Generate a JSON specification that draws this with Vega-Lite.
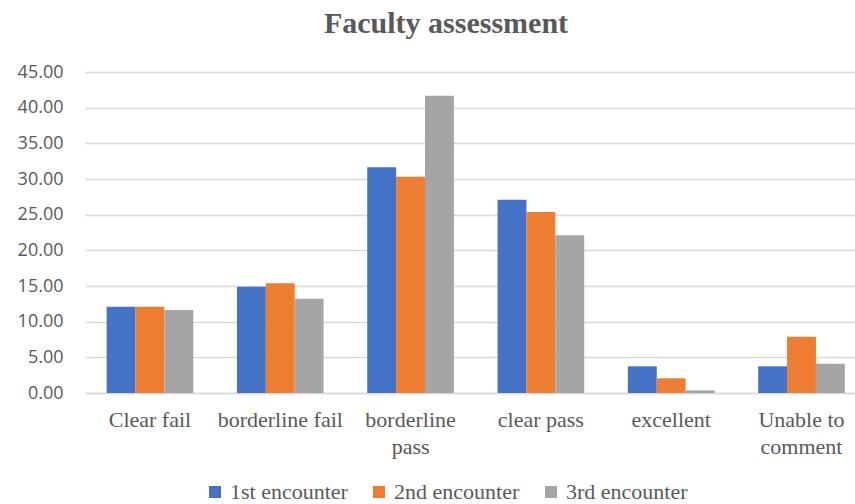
{
  "$schema": "https://vega.github.io/schema/vega-lite/v6.json",
  "width": 770,
  "height": 321,
  "autosize": "none",
  "padding": {"left": 85, "top": 72, "right": 0, "bottom": 111},
  "background": "white",
  "title": {
    "text": "Faculty assessment",
    "font": "Liberation Serif",
    "fontSize": 30,
    "fontWeight": "bold",
    "color": "#595959",
    "anchor": "middle",
    "dx": -24,
    "offset": 24
  },
  "data": {
    "values": [
      {"category": "Clear fail", "series": "1st encounter", "value": 12.10},
      {"category": "Clear fail", "series": "2nd encounter", "value": 12.10},
      {"category": "Clear fail", "series": "3rd encounter", "value": 11.64},
      {"category": "borderline fail", "series": "1st encounter", "value": 14.90},
      {"category": "borderline fail", "series": "2nd encounter", "value": 15.37},
      {"category": "borderline fail", "series": "3rd encounter", "value": 13.22},
      {"category": "borderline pass", "series": "1st encounter", "value": 31.64},
      {"category": "borderline pass", "series": "2nd encounter", "value": 30.33},
      {"category": "borderline pass", "series": "3rd encounter", "value": 41.68},
      {"category": "clear pass", "series": "1st encounter", "value": 27.10},
      {"category": "clear pass", "series": "2nd encounter", "value": 25.37},
      {"category": "clear pass", "series": "3rd encounter", "value": 22.10},
      {"category": "excellent", "series": "1st encounter", "value": 3.74},
      {"category": "excellent", "series": "2nd encounter", "value": 2.06},
      {"category": "excellent", "series": "3rd encounter", "value": 0.37},
      {"category": "Unable to comment", "series": "1st encounter", "value": 3.74},
      {"category": "Unable to comment", "series": "2nd encounter", "value": 7.90},
      {"category": "Unable to comment", "series": "3rd encounter", "value": 4.11}
    ]
  },
  "mark": {"type": "bar"},
  "encoding": {
    "x": {
      "field": "category",
      "type": "nominal",
      "sort": null,
      "scale": {"paddingInner": 0.335, "paddingOuter": 0.122, "align": 0.68},
      "axis": {
        "title": null,
        "labelAngle": 0,
        "labelFont": "Liberation Serif",
        "labelFontSize": 22,
        "labelColor": "#595959",
        "labelPadding": 16,
        "labelLineHeight": 27,
        "ticks": false,
        "domainColor": "#d9d9d9",
        "domainWidth": 1.5,
        "labelExpr": "datum.label == 'borderline pass' ? ['borderline', 'pass'] : datum.label == 'Unable to comment' ? ['Unable to', 'comment'] : datum.label"
      }
    },
    "xOffset": {"field": "series", "type": "nominal", "scale": {"paddingInner": 0, "paddingOuter": 0}},
    "y": {
      "field": "value",
      "type": "quantitative",
      "scale": {"domain": [0, 45]},
      "axis": {
        "title": null,
        "values": [0, 5, 10, 15, 20, 25, 30, 35, 40, 45],
        "format": ".2f",
        "labelFont": "Open Sans",
        "labelFontSize": 18,
        "labelColor": "#595959",
        "labelPadding": 22,
        "ticks": false,
        "domain": false,
        "gridColor": "#d9d9d9",
        "gridWidth": 1.5
      }
    },
    "color": {
      "field": "series",
      "type": "nominal",
      "scale": {"range": ["#4472C4", "#ED7D31", "#A5A5A5"]},
      "legend": {
        "title": null,
        "orient": "none",
        "legendX": 119,
        "legendY": 409,
        "direction": "horizontal",
        "symbolType": "square",
        "symbolSize": 144,
        "symbolStrokeWidth": 0,
        "symbolOpacity": 1,
        "labelOffset": 4,
        "labelFont": "Liberation Serif",
        "labelFontSize": 22,
        "labelColor": "#595959",
        "columnPadding": 20
      }
    }
  },
  "config": {"view": {"stroke": null}}
}
